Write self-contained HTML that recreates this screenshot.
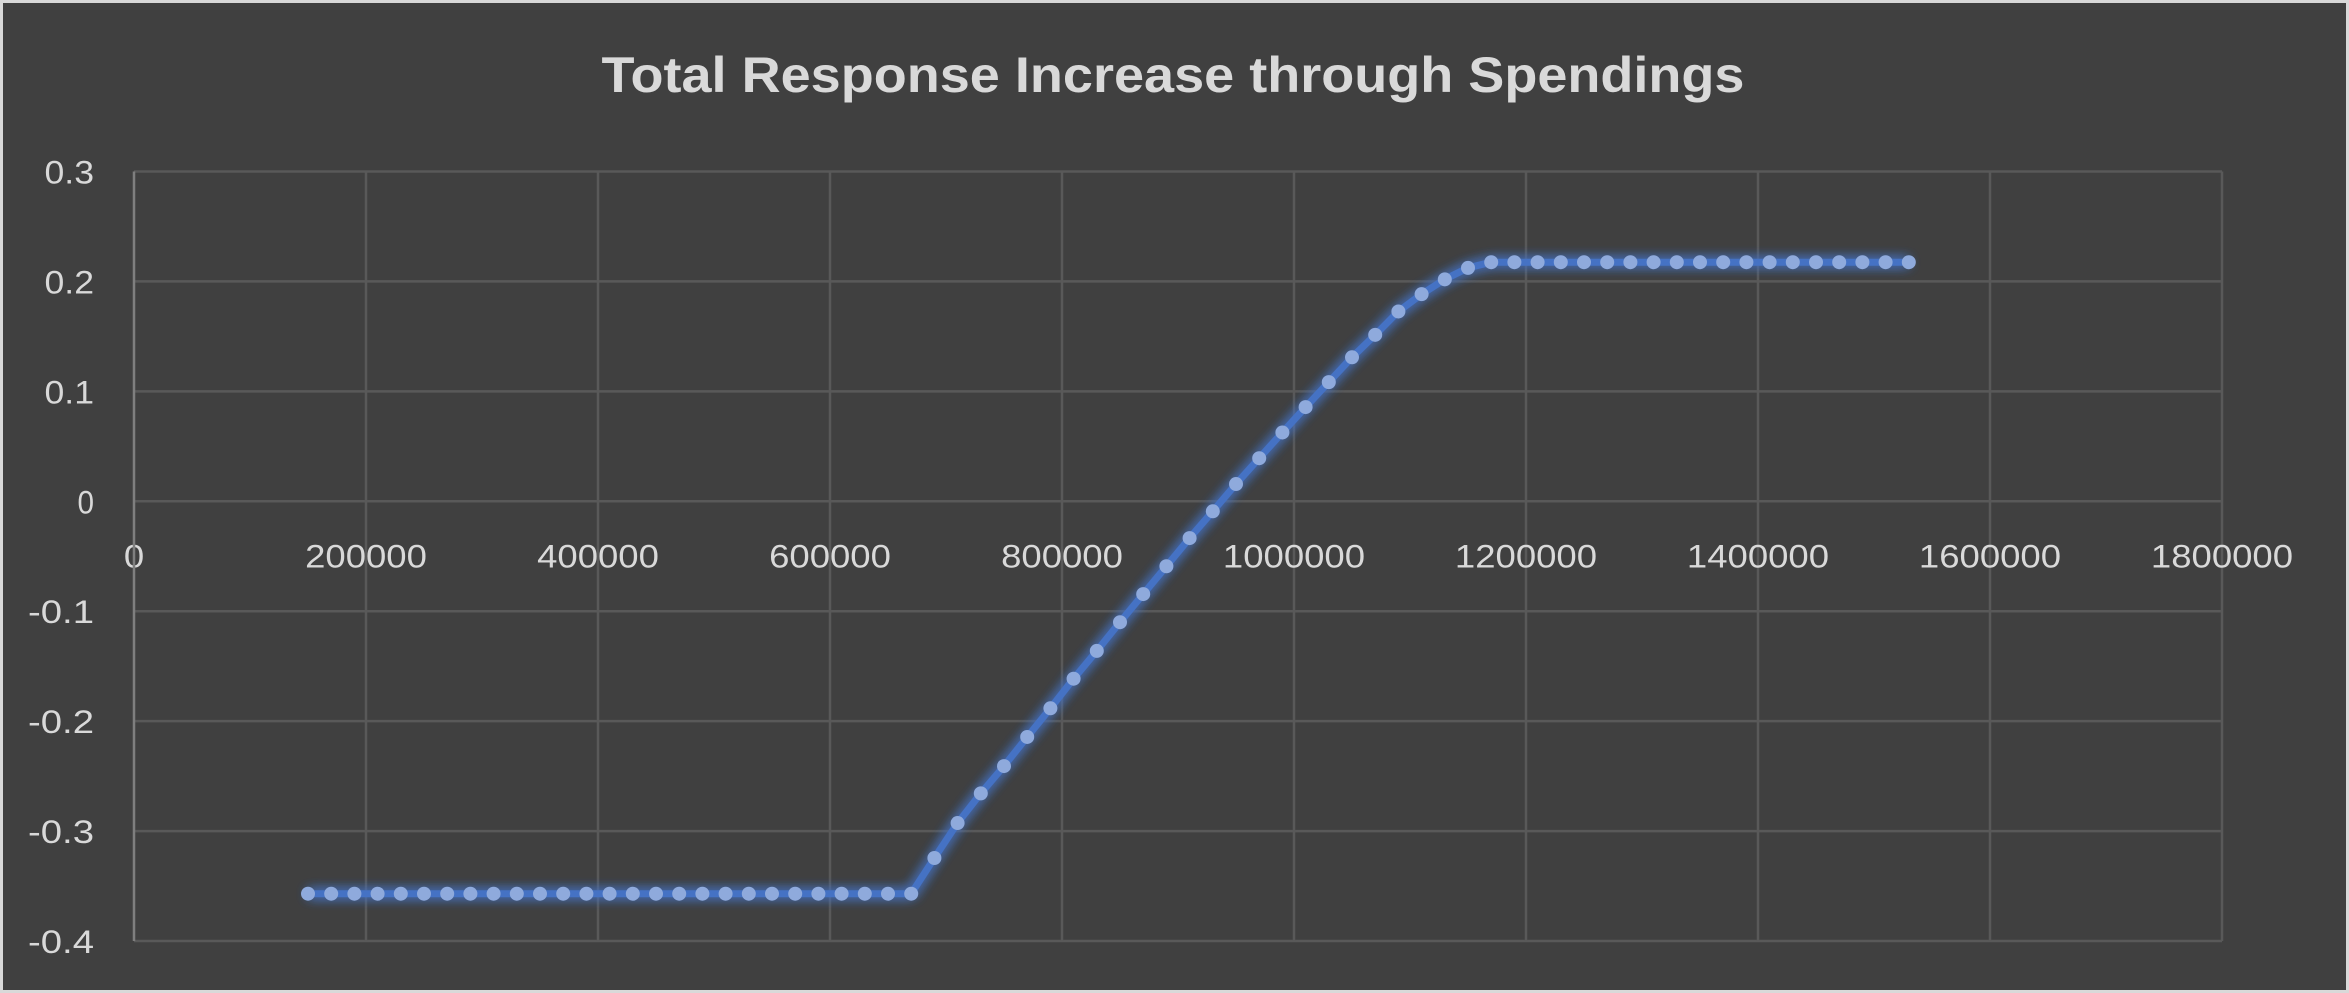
<!DOCTYPE html>
<html><head><meta charset="utf-8"><style>
html,body{margin:0;padding:0;background:#404040;}
svg{display:block;}
text{font-family:"Liberation Sans",sans-serif;fill:#d9d9d9;}
</style></head><body>
<svg id="chart" width="2349" height="993" viewBox="0 0 2349 993" xmlns="http://www.w3.org/2000/svg">
<defs>
<filter id="glow" x="-10%" y="-10%" width="120%" height="120%">
<feGaussianBlur in="SourceGraphic" stdDeviation="6" result="b"/>
<feMerge><feMergeNode in="b"/><feMergeNode in="b"/><feMergeNode in="SourceGraphic"/></feMerge>
</filter>
</defs>
<rect x="1.5" y="1.5" width="2346" height="990" fill="#404040" stroke="#d9d9d9" stroke-width="3"/>
<text x="1173" y="92" text-anchor="middle" font-size="50" font-weight="bold" textLength="1143" lengthAdjust="spacingAndGlyphs">Total Response Increase through Spendings</text>
<g id="grid"></g>
<g id="axes"></g>
<g id="series"></g>
</svg>
<script>
const xTicks = [0,200000,400000,600000,800000,1000000,1200000,1400000,1600000,1800000];
const yTicks = [0.3,0.2,0.1,0,-0.1,-0.2,-0.3,-0.4];
const xStart = 150000;
const xStep = 20000;
const yValues = [
-0.357,-0.357,-0.357,-0.357,-0.357,-0.357,-0.357,-0.357,-0.357,-0.357,
-0.357,-0.357,-0.357,-0.357,-0.357,-0.357,-0.357,-0.357,-0.357,-0.357,
-0.357,-0.357,-0.357,-0.357,-0.357,-0.357,-0.357,
-0.3245,-0.2927,-0.2657,-0.2409,-0.2144,-0.1883,-0.1614,-0.1361,-0.1100,-0.0844,
-0.0591,-0.0335,-0.0091,0.0157,0.0392,0.0626,0.0857,0.1084,0.1310,0.1514,
0.1727,0.1884,0.2019,0.2123,
0.2175,0.2175,0.2175,0.2175,0.2175,0.2175,0.2175,0.2175,0.2175,0.2175,
0.2175,0.2175,0.2175,0.2175,0.2175,0.2175,0.2175,0.2175,0.2175
];
const xValues = yValues.map((_, i) => xStart + i * xStep);

const NS = "http://www.w3.org/2000/svg";
const X0 = 134, X1 = 2222, Y0 = 171.5, Y1 = 941;
const xMin = 0, xMax = 1800000, yMin = -0.4, yMax = 0.3;
const sx = v => X0 + (v - xMin) / (xMax - xMin) * (X1 - X0);
const sy = v => Y1 - (v - yMin) / (yMax - yMin) * (Y1 - Y0);
function mk(tag, attrs, parent) {
  const e = document.createElementNS(NS, tag);
  for (const k in attrs) e.setAttribute(k, attrs[k]);
  parent.appendChild(e);
  return e;
}
const grid = document.getElementById('grid');
const axes = document.getElementById('axes');
const series = document.getElementById('series');

yTicks.forEach(v => {
  const l = mk('line', {x1: X0, x2: X1, y1: sy(v), y2: sy(v), stroke: '#595959', 'stroke-width': 2.5}, grid);
  
  
  const s = String(v);
  const t = mk('text', {x: 94, y: sy(v) + 12, 'text-anchor': 'end', 'font-size': 32, textLength: s.length * 16.5, lengthAdjust: 'spacingAndGlyphs'}, axes);
  t.textContent = s;
  
  
});
xTicks.forEach(v => {
  if (v > 0) {
    const l = mk('line', {x1: sx(v), x2: sx(v), y1: Y0, y2: Y1, stroke: '#595959', 'stroke-width': 2.5}, grid);
    
    
  }
  const s = String(v);
  const t = mk('text', {x: sx(v), y: sy(0) + 66, 'text-anchor': 'middle', 'font-size': 32, textLength: s.length * 20.3, lengthAdjust: 'spacingAndGlyphs'}, axes);
  t.textContent = s;
  
  
});
const ya = mk('line', {x1: X0, x2: X0, y1: Y0, y2: Y1, stroke: '#7f7f7f', 'stroke-width': 2.5}, axes);



const g = mk('g', {filter: 'url(#glow)'}, series);


const pts = xValues.map((x, i) => sx(x).toFixed(1) + ',' + sy(yValues[i]).toFixed(1)).join(' ');
const pl = mk('polyline', {points: pts, fill: 'none', stroke: '#4472c4', 'stroke-width': 7, 'stroke-linejoin': 'round'}, g);


xValues.forEach((x, i) => {
  const c = mk('circle', {cx: sx(x), cy: sy(yValues[i]), r: 7, fill: '#8faadc'}, series);
  
  
});
</script>
</body></html>
